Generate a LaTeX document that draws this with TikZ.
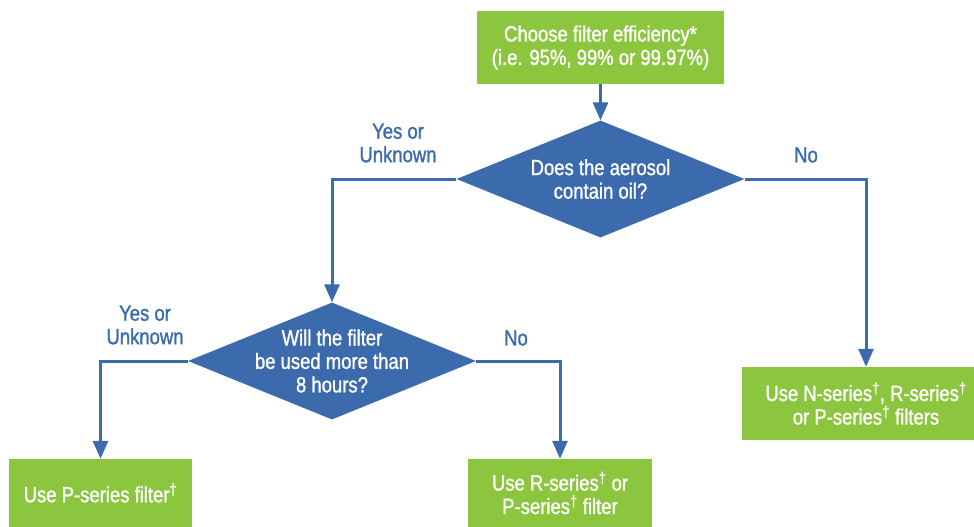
\documentclass[tikz,border=0pt]{standalone}
\usepackage{fontspec}
\setmainfont{Liberation Sans}[FakeStretch=0.84, FakeBold=1.2]
\usetikzlibrary{arrows.meta,shapes.geometric}
\definecolor{leaf}{HTML}{8CC63F}
\definecolor{sea}{HTML}{3B6AAD}
\tikzset{
  stepbox/.style={fill=leaf, text=white, inner sep=0pt, align=center, font=\fontsize{22}{23.5}\selectfont},
  decision/.style={diamond, fill=sea, inner sep=0pt, minimum width=288pt, minimum height=117pt},
  decisiontext/.style={text=white, align=center, font=\fontsize{22}{23.5}\selectfont},
  answer/.style={text=sea, align=center, font=\fontsize{22}{23.5}\selectfont},
  flow/.style={sea, line width=3pt, -{Triangle[width=15pt,length=18pt]}}
}

\begin{document}
\begin{tikzpicture}[x=1pt, y=-1pt]
			%%%%% START %%%%%
			\useasboundingbox (0, 0) rectangle (974, 527);
			
			\node[stepbox, minimum width=247pt, minimum height=73pt] (choose) at (600.5, 47.5) {Choose filter efficiency*\\(i.e. 95\%, 99\% or 99.97\%)};
			
			\node[decision, label={[decisiontext]center:{Does the aerosol\\contain oil?}}] (oil) at (600.5, 179) {};
			\node[decision, label={[decisiontext]center:{Will the filter\\be used more than\\8 hours?}}] (hours) at (332, 361) {};
			
			\node[stepbox, minimum width=248pt, minimum height=73pt] (nser) at (866, 403.5) {Use N-series\textsuperscript{†}, R-series\textsuperscript{†}\\or P-series\textsuperscript{†} filters};
			\node[stepbox, minimum width=183pt, minimum height=68pt] (pser) at (100.5, 493) {Use P-series filter\textsuperscript{†}};
			\node[stepbox, minimum width=184pt, minimum height=68pt] (rser) at (560, 493) {Use R-series\textsuperscript{†} or\\P-series\textsuperscript{†} filter};
			
			\draw[flow] (choose) -- (oil);
			\draw[flow] (oil.west) -| (hours.north);
			\draw[flow] (oil.east) -| (nser.north);
			\draw[flow] (hours.west) -| (pser.north);
			\draw[flow] (hours.east) -| (rser.north);
			
			\node[answer] (oilyes) at (398, 143) {Yes or\\Unknown};
			\node[answer] (oilno) at (806, 155) {No};
			\node[answer] (hoursyes) at (145, 325) {Yes or\\Unknown};
			\node[answer] (hoursno) at (516, 338) {No};
			%%%%% END %%%%%
\end{tikzpicture}
\end{document}
